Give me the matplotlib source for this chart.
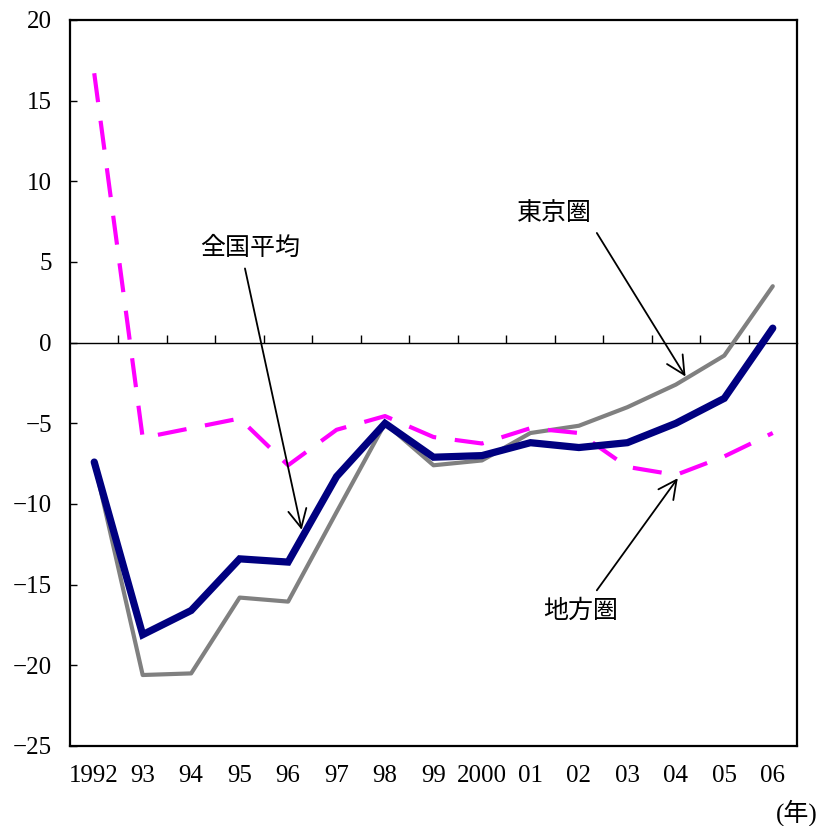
import matplotlib.pyplot as plt
import numpy as np

plt.rcParams['font.family'] = ['Liberation Serif', 'Noto Sans CJK JP']

years = ["1992", "93", "94", "95", "96", "97", "98", "99", "2000", "01", "02", "03", "04", "05", "06"]
national = [-7.4, -18.1, -16.6, -13.4, -13.6, -8.3, -5.0, -7.1, -7.0, -6.2, -6.5, -6.2, -5.0, -3.45, 0.9]
tokyo = [-7.4, -20.6, -20.5, -15.8, -16.05, -10.5, -5.0, -7.6, -7.3, -5.6, -5.15, -4.0, -2.6, -0.8, 3.5]
regional = [16.7, -5.9, -5.3, -4.7, -7.6, -5.4, -4.55, -5.85, -6.25, -5.3, -5.6, -7.7, -8.2, -7.05, -5.6]

x = np.arange(len(years))

fig = plt.figure(figsize=(8.23, 8.26), dpi=100)
ax = fig.add_axes([70 / 823, 1 - 746 / 826, 727 / 823, 726 / 826])

ax.plot(x, tokyo, color="#808080", lw=3, solid_capstyle="round", zorder=3)
(reg_line,) = ax.plot(x, regional, color="#ff00ff", lw=3, zorder=4)
reg_line.set_dashes((7, 4.5))
ax.plot(x, national, color="#000080", lw=5.2, solid_capstyle="round", solid_joinstyle="miter", zorder=5)

ax.set_xlim(-0.5, len(years) - 0.5)
ax.set_ylim(-25, 20)
ax.set_yticks(range(-25, 21, 5))
ax.tick_params(axis="y", direction="in", length=5, width=1, pad=13, labelsize=18)
ax.set_xticks(x)
ax.set_xticklabels(years)
ax.tick_params(axis="x", length=0, pad=14, labelsize=18)

for s in ax.spines.values():
    s.set_linewidth(1.6)

# zero line with category boundary ticks
zero = ax.secondary_xaxis(25 / 45)
zero.set_xticks(np.arange(0.5, len(years) - 0.5, 1))
zero.set_xticklabels([])
zero.tick_params(direction="out", length=6, width=1, labeltop=False, labelbottom=False)
for s in zero.spines.values():
    s.set_linewidth(1)

arrow = dict(arrowstyle="->, head_length=0.6, head_width=0.3", lw=1.3, color="black",
             mutation_scale=22, shrinkA=0, shrinkB=0)
jp = dict(ha="center", va="center", fontsize=18, family=["Noto Sans CJK JP"])
ax.annotate("", xy=(4.28, -11.6), xytext=(3.11, 4.6), arrowprops=arrow, zorder=6)
ax.text(3.21, 5.9, "全国平均", **jp)
ax.annotate("", xy=(12.2, -2.1), xytext=(10.37, 6.8), arrowprops=arrow, zorder=6)
ax.text(9.5, 8.05, "東京圏", **jp)
ax.annotate("", xy=(12.04, -8.4), xytext=(10.37, -15.35), arrowprops=arrow, zorder=6)
ax.text(10.04, -16.6, "地方圏", **jp)

fig.text(797 / 823, 1 - 813 / 826, "(年)", ha="center", va="center", fontsize=18)

fig.savefig("out.png", dpi=100)
